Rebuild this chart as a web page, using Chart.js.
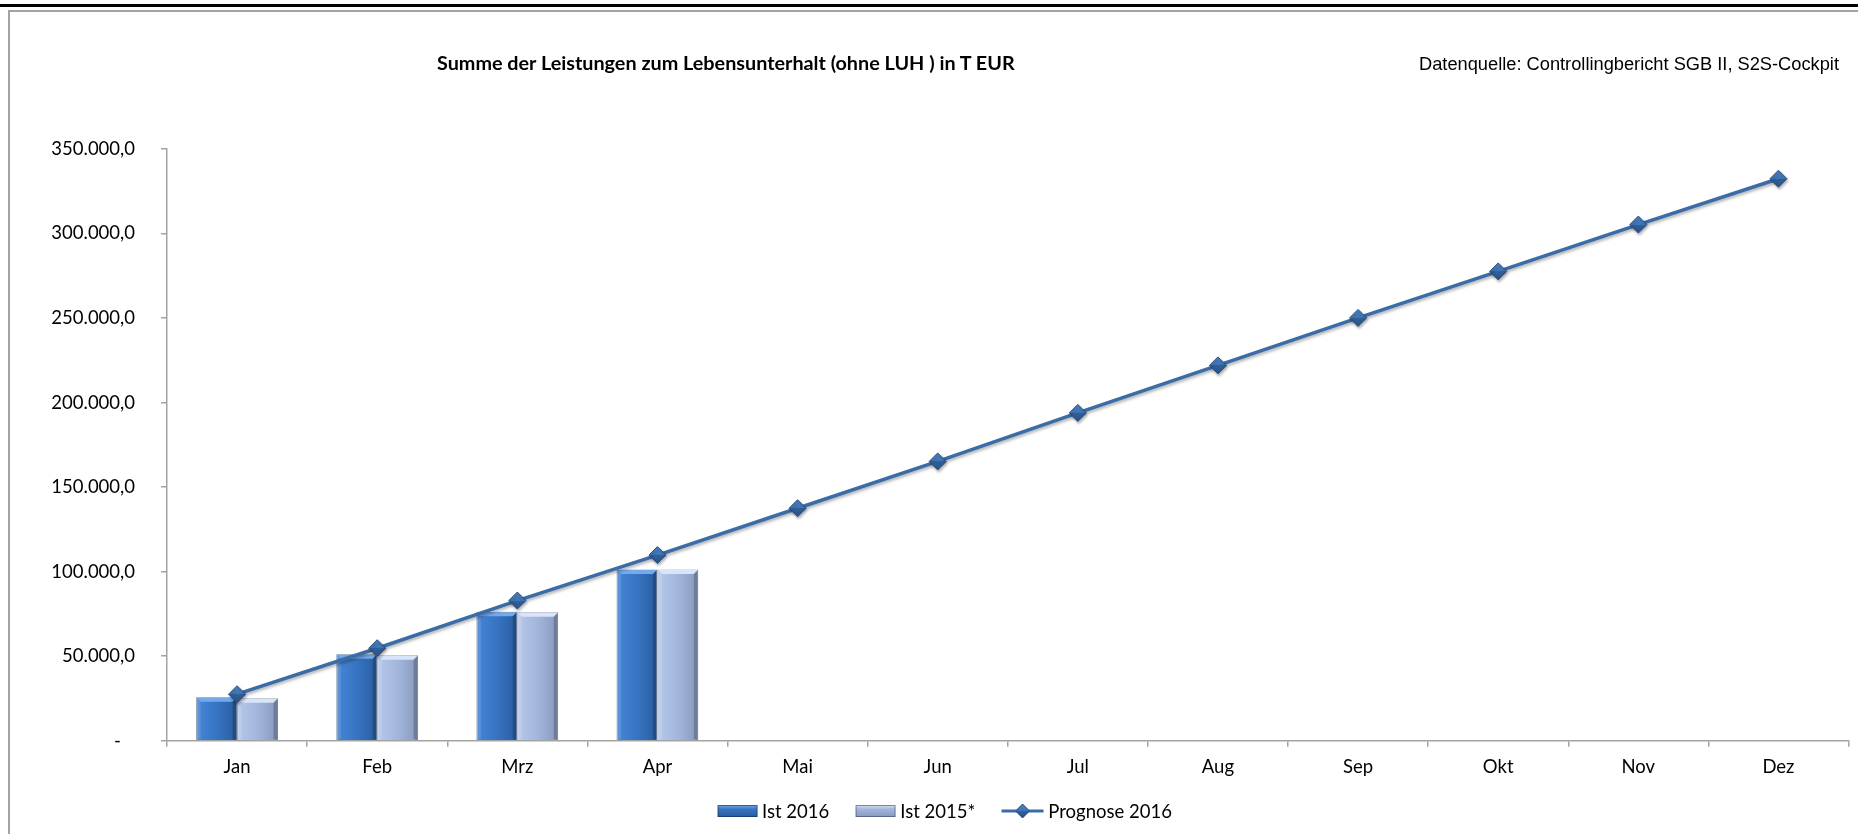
<!DOCTYPE html>
<html lang="de">
<head>
<meta charset="utf-8">
<title>Summe der Leistungen zum Lebensunterhalt</title>
<script src="https://cdn.jsdelivr.net/npm/chart.js@4.4.1/dist/chart.umd.min.js"></script>
<style>
  html, body { margin: 0; padding: 0; background: #fff; overflow: hidden; }
  body { width: 1858px; height: 834px; position: relative; font-family: Lato, sans-serif; }
  #topRule { position: absolute; left: 0; top: 4px; width: 1858px; height: 3px; background: #000; }
  #frame { position: absolute; left: 8px; top: 10px; width: 1850px; height: 824px;
           border-left: 2px solid #a3a3a3; border-top: 2px solid #a3a3a3; box-sizing: border-box; }
  #chart { position: absolute; left: 0; top: 0; display: block; }
  #title { position: absolute; left: 437px; top: 53px; font: bold 19.8px/19.8px Lato, sans-serif;
           white-space: nowrap; color: #000; }
  #source { position: absolute; left: 1419px; top: 54.5px; font: 18.25px/18.25px "Liberation Sans", Arial, sans-serif;
            white-space: nowrap; color: #000; }
  #legend { position: absolute; left: 944.5px; top: 801.5px; transform: translateX(-50%);
            display: flex; gap: 26px; font: 18.5px/18.5px Lato, sans-serif; white-space: nowrap; color: #000; }
  #legend .item { display: flex; align-items: center; }
  #legend canvas { margin-right: 5px; }
</style>
</head>
<body>
<div id="topRule"></div>
<div id="frame"></div>
<canvas id="chart" width="1858" height="834"></canvas>
<div id="title">Summe der Leistungen zum Lebensunterhalt (ohne LUH ) in T EUR</div>
<div id="source">Datenquelle: Controllingbericht SGB II, S2S-Cockpit</div>
<div id="legend"></div>

<script>
const months = ["Jan", "Feb", "Mrz", "Apr", "Mai", "Jun", "Jul", "Aug", "Sep", "Okt", "Nov", "Dez"];

// values in T EUR
const ist2016 = [25700, 51100, 76300, 101300, null, null, null, null, null, null, null, null];
const ist2015 = [25100, 50500, 76000, 101300, null, null, null, null, null, null, null, null];
const prognose2016 = [27500, 54700, 82900, 109800, 137500, 165200, 193900, 222000, 250100, 277600, 305300, 332400];

const yTickValues = [0, 50000, 100000, 150000, 200000, 250000, 300000, 350000];
const yTickLabels = ["-   ", "50.000,0", "100.000,0", "150.000,0", "200.000,0", "250.000,0", "300.000,0", "350.000,0"];

const AXIS = "#a3a3a3";
const LINE = "#3a6ca8";
const CAT_PCT = 0.584;
const POINT_R = 8.5;
const FONT = { family: "Lato", size: 18.5 };

// colours for the two bar series: light / mid / dark + bevel
const barTones = [
  { light: "#4686d8", mid: "#3774c3", dark: "#2a5c9f", top: "#74aaea", edge: "rgba(20,45,85,0.6)" },
  { light: "#b6c9ec", mid: "#a2b6dc", dark: "#8798bb", top: "#d8e4f8", edge: "rgba(60,75,105,0.6)" }
];

function barFill(c) {
  const tone = barTones[c.datasetIndex];
  const xs = c.chart.scales.x;
  if (!xs || c.type !== "data") return tone.mid;
  const center = xs.getPixelForValue(c.dataIndex);
  const w = xs.width / months.length * CAT_PCT / 2;
  const x0 = c.datasetIndex === 0 ? center - w : center;
  if (!isFinite(x0) || !isFinite(w) || w <= 0) return tone.mid;
  const g = c.chart.ctx.createLinearGradient(x0, 0, x0 + w, 0);
  g.addColorStop(0, tone.light);
  g.addColorStop(0.5, tone.mid);
  g.addColorStop(1, tone.dark);
  return g;
}

// diamond marker: lighter upper half, darker lower half
function pointFill(c) {
  const ys = c.chart.scales.y;
  if (!ys || c.type !== "data" || c.raw == null) return "#3b6da9";
  const py = ys.getPixelForValue(c.raw);
  if (!isFinite(py)) return "#3b6da9";
  const g = c.chart.ctx.createLinearGradient(0, py - POINT_R, 0, py + POINT_R);
  g.addColorStop(0, "#4d84c4");
  g.addColorStop(0.5, "#3f74b3");
  g.addColorStop(0.5, "#315f98");
  g.addColorStop(1, "#2a5487");
  return g;
}

// bevel highlights on every bar, Excel style
const bevelPlugin = {
  id: "bevel",
  beforeDatasetDraw(chart, args) {
    if (args.meta.type !== "line") return;
    const ctx = chart.ctx;
    ctx.save();
    ctx.shadowColor = "rgba(0,0,0,0.3)";
    ctx.shadowBlur = 3;
    ctx.shadowOffsetX = 1;
    ctx.shadowOffsetY = 2;
  },
  afterDatasetDraw(chart, args) {
    const meta = args.meta;
    const ctx = chart.ctx;
    if (meta.type === "line") { ctx.restore(); return; }
    if (meta.type !== "bar") return;
    const tone = barTones[args.index];
    const b = 4.5;
    meta.data.forEach(el => {
      const { x, y, base, width } = el.getProps(["x", "y", "base", "width"], true);
      if (!isFinite(y) || !isFinite(x) || base - y < 2 * b) return;
      const l = x - width / 2, r = x + width / 2;
      ctx.save();
      ctx.fillStyle = tone.top;
      ctx.beginPath();
      ctx.moveTo(l + 0.5, y + 0.5); ctx.lineTo(r - 0.5, y + 0.5);
      ctx.lineTo(r - b, y + b); ctx.lineTo(l + b, y + b);
      ctx.closePath(); ctx.fill();
      ctx.fillStyle = "rgba(0,0,0,0.2)";
      ctx.beginPath();
      ctx.moveTo(r - 0.5, y + 0.5); ctx.lineTo(r - 0.5, base);
      ctx.lineTo(r - b, base - 1); ctx.lineTo(r - b, y + b);
      ctx.closePath(); ctx.fill();
      ctx.fillStyle = "rgba(255,255,255,0.12)";
      ctx.beginPath();
      ctx.moveTo(l + 0.5, y + 0.5); ctx.lineTo(l + b, y + b);
      ctx.lineTo(l + b, base - 1); ctx.lineTo(l + 0.5, base);
      ctx.closePath(); ctx.fill();
      ctx.restore();
    });
  }
};

const chart = new Chart(document.getElementById("chart"), {
  data: {
    labels: months,
    datasets: [
      {
        type: "bar",
        label: "Ist 2016",
        data: ist2016,
        backgroundColor: barFill,
        borderColor: barTones[0].edge,
        borderWidth: 1,
        categoryPercentage: CAT_PCT,
        barPercentage: 1,
        order: 1
      },
      {
        type: "bar",
        label: "Ist 2015*",
        data: ist2015,
        backgroundColor: barFill,
        borderColor: barTones[1].edge,
        borderWidth: 1,
        categoryPercentage: CAT_PCT,
        barPercentage: 1,
        order: 1
      },
      {
        type: "line",
        label: "Prognose 2016",
        data: prognose2016,
        borderColor: LINE,
        borderWidth: 3.5,
        tension: 0,
        pointStyle: "rectRot",
        pointRadius: POINT_R,
        pointBackgroundColor: pointFill,
        pointBorderColor: "#284f80",
        pointBorderWidth: 1,
        order: 0
      }
    ]
  },
  options: {
    responsive: false,
    animation: false,
    layout: { padding: { top: 149, right: 3, left: 0, bottom: 0 } },
    plugins: {
      legend: { display: false },
      title: { display: false },
      tooltip: { enabled: false }
    },
    scales: {
      x: {
        offset: true,
        grid: { offset: true, drawOnChartArea: false, drawTicks: true, tickLength: 6, color: AXIS, lineWidth: 1.5 },
        border: { color: AXIS, width: 1.5 },
        ticks: { padding: 9, color: "#000", font: FONT, maxRotation: 0 },
        afterFit: s => { s.height = 93.3; }
      },
      y: {
        min: 0,
        max: 350000,
        afterBuildTicks: s => { s.ticks = yTickValues.map(v => ({ value: v })); },
        afterFit: s => { s.width = 167; },
        grid: { drawOnChartArea: false, drawTicks: true, tickLength: 6, color: AXIS, lineWidth: 1.5 },
        border: { color: AXIS, width: 1.5 },
        ticks: {
          padding: 26,
          color: "#000",
          font: FONT,
          callback: v => yTickLabels[yTickValues.indexOf(v)]
        }
      }
    }
  },
  plugins: [bevelPlugin]
});

// legend swatches drawn on small canvases
function drawBarSwatch(cv, tone) {
  const ctx = cv.getContext("2d");
  const w = cv.width, h = cv.height;
  const g = ctx.createLinearGradient(0, 0, 0, h);
  g.addColorStop(0, tone.top);
  g.addColorStop(0.35, tone.mid);
  g.addColorStop(1, tone.dark);
  ctx.fillStyle = g;
  ctx.fillRect(0, 0, w, h);
  ctx.strokeStyle = tone.edge;
  ctx.strokeRect(0.5, 0.5, w - 1, h - 1);
}

function drawLineSwatch(cv, ds) {
  const ctx = cv.getContext("2d");
  const w = cv.width, h = cv.height, cy = h / 2;
  ctx.strokeStyle = ds.borderColor;
  ctx.lineWidth = 3;
  ctx.beginPath(); ctx.moveTo(0, cy); ctx.lineTo(w, cy); ctx.stroke();
  const r = 7;
  const g = ctx.createLinearGradient(0, cy - r, 0, cy + r);
  g.addColorStop(0, "#4d84c4");
  g.addColorStop(0.5, "#3f74b3");
  g.addColorStop(0.5, "#315f98");
  g.addColorStop(1, "#2a5487");
  ctx.fillStyle = g;
  ctx.strokeStyle = ds.pointBorderColor;
  ctx.lineWidth = 1;
  ctx.beginPath();
  ctx.moveTo(w / 2, cy - r); ctx.lineTo(w / 2 + r, cy); ctx.lineTo(w / 2, cy + r); ctx.lineTo(w / 2 - r, cy);
  ctx.closePath(); ctx.fill(); ctx.stroke();
}

const legendEl = document.getElementById("legend");
chart.data.datasets.forEach((ds, i) => {
  const item = document.createElement("div");
  item.className = "item";
  const cv = document.createElement("canvas");
  if (ds.type === "bar") {
    cv.width = 40; cv.height = 12;
    drawBarSwatch(cv, barTones[i]);
  } else {
    cv.width = 42; cv.height = 16;
    drawLineSwatch(cv, ds);
  }
  const span = document.createElement("span");
  span.textContent = ds.label;
  item.appendChild(cv);
  item.appendChild(span);
  legendEl.appendChild(item);
});
</script>
</body>
</html>
